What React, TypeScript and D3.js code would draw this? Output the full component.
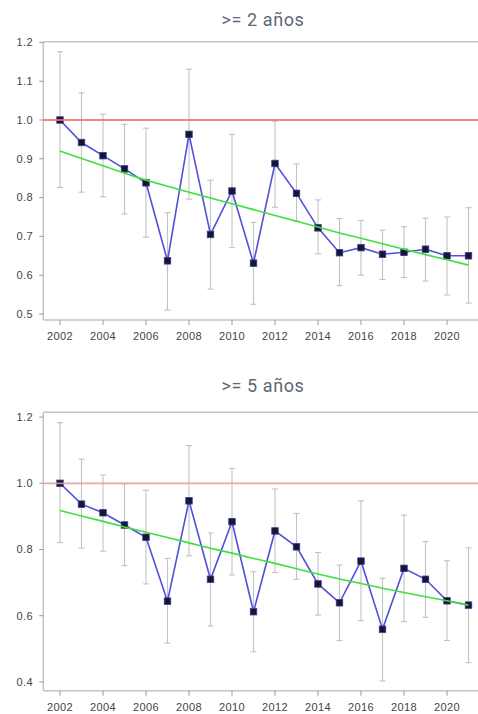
import React from "react";
import * as d3 from "d3";

const years = d3.range(2002, 2022);
const xTickYears = [2002, 2004, 2006, 2008, 2010, 2012, 2014, 2016, 2018, 2020];

// Panel 1: >= 2 años
const title1 = ">= 2 años";
const est1 = [1.0, 0.942, 0.908, 0.874, 0.838, 0.637, 0.963, 0.705, 0.817, 0.631, 0.888, 0.811, 0.722, 0.658, 0.671, 0.654, 0.659, 0.667, 0.65, 0.65];
const hi1 = [1.176, 1.07, 1.015, 0.989, 0.979, 0.761, 1.131, 0.845, 0.963, 0.736, 0.997, 0.887, 0.794, 0.746, 0.741, 0.716, 0.725, 0.747, 0.75, 0.774];
const lo1 = [0.826, 0.814, 0.802, 0.758, 0.698, 0.51, 0.796, 0.564, 0.671, 0.525, 0.775, 0.74, 0.655, 0.573, 0.6, 0.589, 0.594, 0.585, 0.549, 0.528];
const trend1 = [0.92, 0.901, 0.882, 0.863, 0.845, 0.829, 0.814, 0.799, 0.784, 0.769, 0.754, 0.739, 0.724, 0.709, 0.695, 0.681, 0.667, 0.653, 0.64, 0.626];
const yTicks1 = [0.5, 0.6, 0.7, 0.8, 0.9, 1.0, 1.1, 1.2];

// Panel 2: >= 5 años
const title2 = ">= 5 años";
const est2 = [1.0, 0.937, 0.911, 0.874, 0.837, 0.644, 0.947, 0.71, 0.884, 0.612, 0.856, 0.808, 0.696, 0.639, 0.765, 0.559, 0.743, 0.71, 0.645, 0.632];
const hi2 = [1.183, 1.073, 1.025, 0.998, 0.979, 0.773, 1.114, 0.85, 1.045, 0.733, 0.983, 0.909, 0.791, 0.753, 0.947, 0.713, 0.904, 0.824, 0.766, 0.805];
const lo2 = [0.821, 0.804, 0.795, 0.751, 0.696, 0.517, 0.781, 0.569, 0.723, 0.491, 0.73, 0.71, 0.602, 0.525, 0.585, 0.403, 0.582, 0.595, 0.525, 0.458];
const trend2 = [0.918, 0.901, 0.885, 0.868, 0.852, 0.836, 0.82, 0.804, 0.789, 0.773, 0.758, 0.742, 0.726, 0.711, 0.697, 0.683, 0.67, 0.657, 0.645, 0.632];
const yTicks2 = [0.4, 0.6, 0.8, 1.0, 1.2];

const refValue = 1.0;

type PanelProps = {
  title: string;
  titleY: number;
  est: number[];
  hi: number[];
  lo: number[];
  trend: number[];
  yTicks: number[];
  domain: [number, number];
  top: number;
  bottom: number;
  redColor: string;
};

const W = 478;
const left = 43.3;
const x = d3.scaleLinear().domain([2002, 2021]).range([60, 468.5]);

function Panel(p: PanelProps) {
  const y = d3.scaleLinear().domain(p.domain).range([p.bottom, p.top]);
  const line = d3
    .line<number>()
    .x((_, i) => x(years[i]))
    .y((d) => y(d));
  const fmt = d3.format(".1f");
  const axisCol = "#c4c4c4";
  const cap = 3;
  const labelFont = "'Liberation Sans', Arial, sans-serif";
  return (
    <g>
      <text
        x={263}
        y={p.titleY}
        textAnchor="middle"
        fontFamily="Roboto, 'Noto Sans', sans-serif"
        fontSize={18}
        letterSpacing={0.6}
        fill="#5d6875"
      >
        {p.title}
      </text>
      {/* box */}
      <line x1={left} x2={W} y1={p.top} y2={p.top} stroke={axisCol} strokeWidth={1.5} />
      <line x1={left} x2={W} y1={p.bottom} y2={p.bottom} stroke={axisCol} strokeWidth={1.5} />
      <line x1={left} x2={left} y1={p.top} y2={p.bottom} stroke={axisCol} strokeWidth={1.5} />
      {/* y ticks */}
      {p.yTicks.map((t) => (
        <g key={t}>
          <line x1={left - 4} x2={left} y1={y(t)} y2={y(t)} stroke="#999" strokeWidth={1} />
          <text
            x={33}
            y={y(t)}
            dy="0.35em"
            textAnchor="end"
            fontFamily={labelFont}
            fontSize={11}
            letterSpacing={0.4}
            fill="#444"
          >
            {fmt(t)}
          </text>
        </g>
      ))}
      {/* x ticks */}
      {xTickYears.map((t) => (
        <g key={t}>
          <line x1={x(t)} x2={x(t)} y1={p.bottom} y2={p.bottom + 5} stroke="#999" strokeWidth={1} />
          <text
            x={x(t)}
            y={p.bottom + 20}
            textAnchor="middle"
            fontFamily={labelFont}
            fontSize={11}
            letterSpacing={0.4}
            fill="#444"
          >
            {t}
          </text>
        </g>
      ))}
      {/* error bars */}
      {years.map((yr, i) => (
        <g key={yr} stroke="#c2c2c2" strokeWidth={1.1}>
          <line x1={x(yr)} x2={x(yr)} y1={y(p.hi[i])} y2={y(p.lo[i])} />
          <line x1={x(yr) - cap} x2={x(yr) + cap} y1={y(p.hi[i])} y2={y(p.hi[i])} />
          <line x1={x(yr) - cap} x2={x(yr) + cap} y1={y(p.lo[i])} y2={y(p.lo[i])} />
        </g>
      ))}
      {/* estimate line */}
      <path d={line(p.est) || ""} fill="none" stroke="#5050d8" strokeWidth={1.6} />
      {/* points */}
      {years.map((yr, i) => (
        <rect
          key={yr}
          x={x(yr) - 3.25}
          y={y(p.est[i]) - 3.25}
          width={6.5}
          height={6.5}
          fill="#16162e"
          stroke="#3a3a9a"
          strokeWidth={0.8}
        />
      ))}
      {/* trend */}
      <path d={line(p.trend) || ""} fill="none" stroke="#3ee03e" strokeWidth={1.6} />
      {/* reference line */}
      <line
        x1={left}
        x2={W}
        y1={y(refValue)}
        y2={y(refValue)}
        stroke={p.redColor}
        strokeWidth={1.8}
        opacity={0.85}
      />
    </g>
  );
}

export default function App() {
  return (
    <svg
      width={478}
      height={714}
      style={{ position: "absolute", left: 0, top: 0, background: "#fff" }}
    >
      <rect width={478} height={714} fill="#fff" />
      <Panel
        title={title1}
        titleY={26}
        est={est1}
        hi={hi1}
        lo={lo1}
        trend={trend1}
        yTicks={yTicks1}
        domain={[0.4845, 1.2018]}
        top={41.7}
        bottom={320}
        redColor="#f07070"
      />
      <Panel
        title={title2}
        titleY={392}
        est={est2}
        hi={hi2}
        lo={lo2}
        trend={trend2}
        yTicks={yTicks2}
        domain={[0.3734, 1.2145]}
        top={412.3}
        bottom={690.7}
        redColor="#e89a9a"
      />
    </svg>
  );
}
